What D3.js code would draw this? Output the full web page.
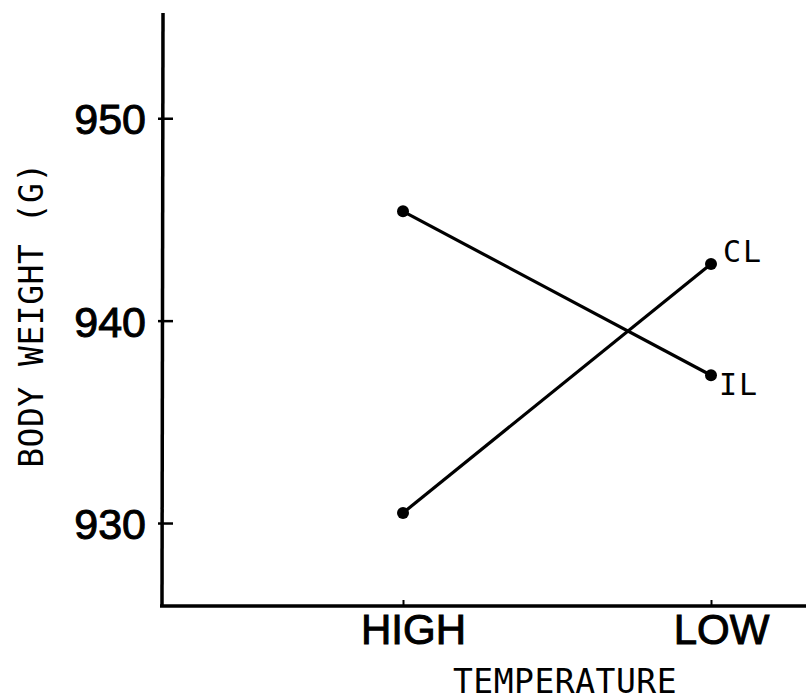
<!DOCTYPE html>
<html>
<head>
<meta charset="utf-8">
<script src="https://cdn.jsdelivr.net/npm/d3@7"></script>
<style>
  body { margin: 0; background: #fff; }
  .tick text { font-family: "Liberation Sans", Arial, sans-serif; }
  .mono { font-family: "DejaVu Sans Mono", monospace; }
</style>
</head>
<body>
<svg class="chart" width="806" height="700"></svg>
<script>
var temps = ["HIGH", "LOW"];
var yTicks = [930, 940, 950];
var seriesNames = ["IL", "CL"];
var ilValues = [945.4, 937.3];
var clValues = [930.5, 942.8];

var svg = d3.select(".chart"),
    width = +svg.attr("width"),
    height = +svg.attr("height");

var x = d3.scalePoint()
    .domain(temps)
    .range([403, 711]);

var y = d3.scaleLinear()
    .domain([925.9, 955.2])
    .range([606, 13]);

var ink = "#000";

// y axis
var yAxis = svg.append("g")
    .attr("transform", "translate(163,0)")
    .call(d3.axisLeft(y).tickValues(yTicks).tickSize(5).tickPadding(12).tickFormat(d3.format("d")));
yAxis.select(".domain").remove();
yAxis.selectAll(".tick line").attr("x2", 10).attr("x1", -5).attr("stroke", ink).attr("stroke-width", 2.5);
yAxis.selectAll(".tick text")
    .attr("font-size", 43).attr("fill", ink).attr("dy", "0.36em")
    .attr("stroke", ink).attr("stroke-width", 1);
svg.append("line")
    .attr("x1", 163).attr("x2", 162)
    .attr("y1", y(955.2)).attr("y2", y(925.9))
    .attr("stroke", ink).attr("stroke-width", 3.5);

// x axis
var xAxis = svg.append("g")
    .attr("transform", "translate(0," + y(925.9) + ")")
    .call(d3.axisBottom(x).tickSize(0).tickPadding(8));
xAxis.select(".domain").remove();
xAxis.selectAll(".tick text")
    .attr("font-size", 42).attr("fill", ink)
    .attr("stroke", ink).attr("stroke-width", 1)
    .attr("dx", 10).attr("dy", "0.71em");
xAxis.selectAll(".tick").append("line")
    .attr("y1", 0).attr("y2", -6)
    .attr("stroke", ink).attr("stroke-width", 2);
svg.append("line")
    .attr("x1", 160).attr("x2", width)
    .attr("y1", y(925.9)).attr("y2", y(925.9))
    .attr("stroke", ink).attr("stroke-width", 3.5);

// axis titles
svg.append("text")
    .attr("class", "mono")
    .attr("x", 565).attr("y", 693)
    .attr("text-anchor", "middle")
    .attr("font-size", 33)
    .attr("letter-spacing", 0.5)
    .text("TEMPERATURE");

svg.append("text")
    .attr("class", "mono")
    .attr("transform", "translate(43,315) rotate(-90)")
    .attr("text-anchor", "middle")
    .attr("font-size", 33)
    .attr("letter-spacing", 0.5)
    .text("BODY WEIGHT (G)");

// series
var series = [
  { name: seriesNames[0], values: ilValues, dx: 8, dy: 20 },
  { name: seriesNames[1], values: clValues, dx: 12, dy: -2 }
];

var line = d3.line()
    .x(function(d, i) { return x(temps[i]); })
    .y(function(d) { return y(d); });

series.forEach(function(s) {
  svg.append("path")
      .datum(s.values)
      .attr("d", line)
      .attr("fill", "none")
      .attr("stroke", ink)
      .attr("stroke-width", 3.2);

  svg.selectAll(null)
      .data(s.values)
      .enter().append("circle")
      .attr("cx", function(d, i) { return x(temps[i]); })
      .attr("cy", function(d) { return y(d); })
      .attr("r", 6)
      .attr("fill", ink);

  svg.append("text")
      .attr("class", "mono")
      .attr("x", x(temps[1]) + s.dx)
      .attr("y", y(s.values[1]) + s.dy)
      .attr("font-size", 30)
      .attr("letter-spacing", 2)
      .text(s.name);
});
</script>
</body>
</html>
